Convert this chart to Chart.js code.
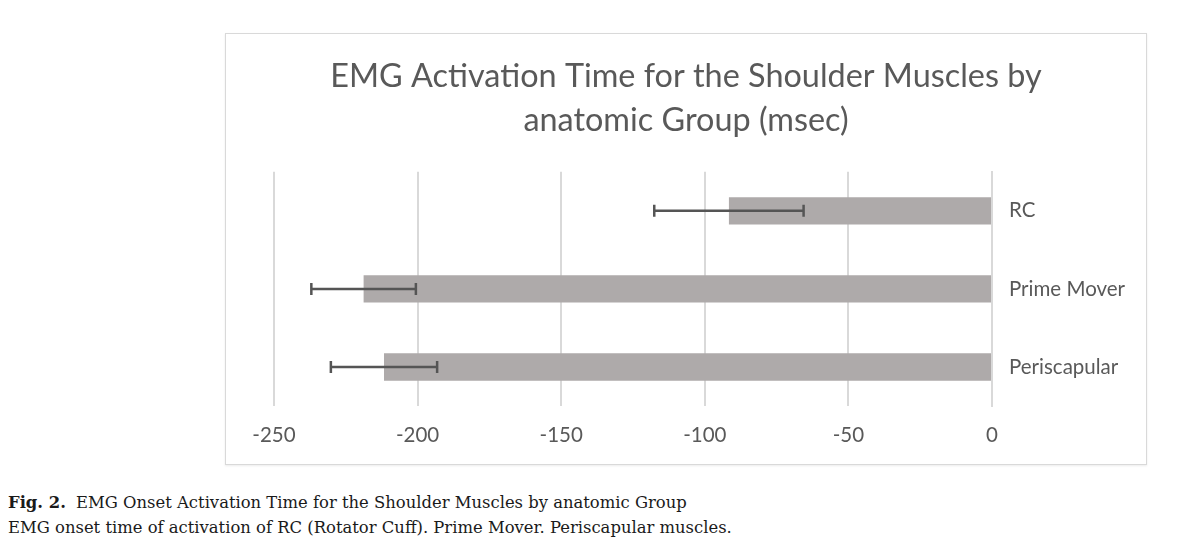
<!DOCTYPE html>
<html>
<head>
<meta charset="utf-8">
<script src="https://cdn.jsdelivr.net/npm/chart.js@4.4.1/dist/chart.umd.min.js"></script>
<style>
    body { margin: 0; background: #fff; width: 1200px; height: 545px; position: relative; overflow: hidden; }
    #frame { position: absolute; left: 225px; top: 33px; width: 922px; height: 432px; border: 1px solid #d9d9d9; box-sizing: border-box; box-shadow: 0 1px 2px rgba(0,0,0,0.08); }
    #frame canvas { display: block; }
    #caption { position: absolute; left: 8px; top: 491px; font-family: 'DejaVu Serif', serif; font-size: 16.4px; line-height: 24.5px; color: #1a1a1a; white-space: nowrap; }
    #caption b { margin-right: 5px; }
</style>
</head>
<body>
<div id="frame"><canvas id="emgChart" width="920" height="430"></canvas></div>
<div id="caption">
    <b>Fig. 2.</b> EMG Onset Activation Time for the Shoulder Muscles by anatomic Group<br>
    EMG onset time of activation of RC (Rotator Cuff). Prime Mover. Periscapular muscles.
</div>
<script>
const groups = ['RC', 'Prime Mover', 'Periscapular'];
const onsetMeans = [-91.6, -218.8, -211.7];
const onsetErrors = [26, 18.2, 18.5];
const xTickValues = [-250, -200, -150, -100, -50, 0];

const textColor = '#595959';
const gridColor = '#d9d9d9';
const barColor = '#aeaaaa';

// draws the +/- error whiskers from the same scales as the bars
const errorBars = {
    id: 'errorBars',
    afterDatasetsDraw(chart) {
        const ctx = chart.ctx;
        const x = chart.scales.x;
        const y = chart.scales.y;
        ctx.save();
        ctx.strokeStyle = '#555555';
        ctx.lineWidth = 2.5;
        onsetMeans.forEach((m, i) => {
            const yc = y.getPixelForValue(i);
            const x1 = x.getPixelForValue(m - onsetErrors[i]);
            const x2 = x.getPixelForValue(m + onsetErrors[i]);
            ctx.beginPath();
            ctx.moveTo(x1, yc);
            ctx.lineTo(x2, yc);
            ctx.moveTo(x1, yc - 6);
            ctx.lineTo(x1, yc + 6);
            ctx.moveTo(x2, yc - 6);
            ctx.lineTo(x2, yc + 6);
            ctx.stroke();
        });
        ctx.restore();
    }
};

new Chart(document.getElementById('emgChart'), {
    type: 'bar',
    data: {
        labels: groups,
        datasets: [{
            data: onsetMeans,
            backgroundColor: barColor,
            borderWidth: 0,
            barPercentage: 0.35,
            categoryPercentage: 1
        }]
    },
    options: {
        indexAxis: 'y',
        responsive: false,
        animation: false,
        plugins: {
            legend: { display: false },
            tooltip: { enabled: false },
            title: {
                display: true,
                text: ['EMG Activation Time for the Shoulder Muscles by', 'anatomic Group (msec)'],
                color: textColor,
                font: { family: 'Lato', size: 32.4, weight: 'normal', lineHeight: 1.34 },
                padding: { top: 21, bottom: 30 }
            }
        },
        scales: {
            x: {
                min: -250,
                max: 0,
                afterBuildTicks: axis => { axis.ticks = xTickValues.map(v => ({ value: v })); },
                afterFit: axis => { axis.height = 58; axis.paddingLeft = 48; },
                border: { display: false },
                grid: { color: gridColor, lineWidth: 2, drawTicks: false },
                ticks: { color: textColor, padding: 17, font: { family: 'Lato', size: 20.5 } }
            },
            y: {
                position: 'right',
                afterFit: axis => { axis.width = 154; },
                border: { display: true, color: gridColor, width: 2 },
                grid: { display: false, drawTicks: false },
                ticks: { color: textColor, padding: 17, font: { family: 'Lato', size: 20.5 } }
            }
        }
    },
    plugins: [errorBars]
});
</script>
</body>
</html>
